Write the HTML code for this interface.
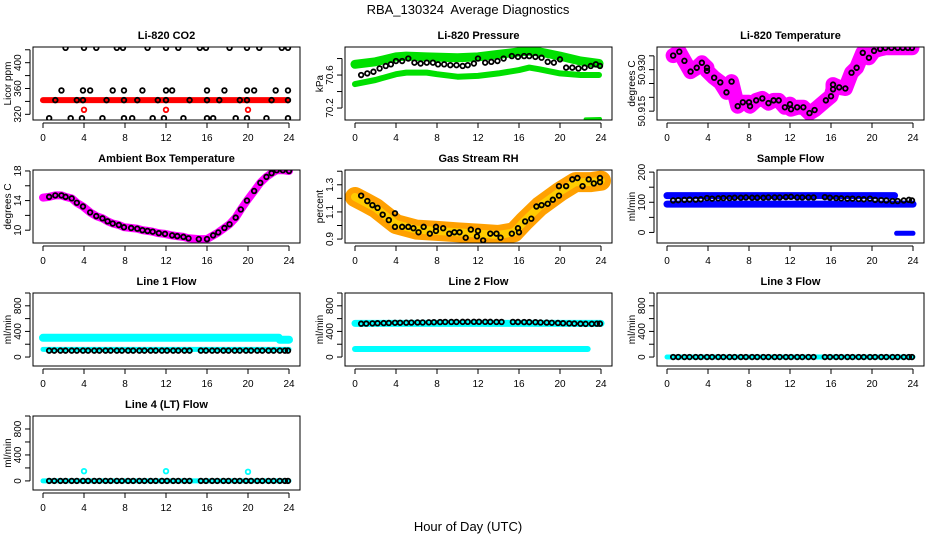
<!DOCTYPE html>
<html><head><meta charset="utf-8">
<style>
html,body{margin:0;padding:0;background:#fff;}
svg{display:block;font-family:"Liberation Sans",Arial,sans-serif;}
</style></head>
<body>
<svg id="chart" width="936" height="540" viewBox="0 0 936 540">
<text x="468" y="14" text-anchor="middle" font-size="13" style="white-space:pre">RBA_130324  Average Diagnostics</text>
<text x="468" y="531" text-anchor="middle" font-size="13">Hour of Day (UTC)</text>
</svg>
<script>
// ---------- data ----------
const xTicks = [0,4,8,12,16,20,24];
// CO2
const co2PtHours = [2.2,4.0,5.2,7.2,7.8,10.2,12.0,13.2,15.3,15.9,18.2,19.9,21.1,23.3,23.9,
 1.8,3.9,4.6,6.8,7.9,9.7,12.0,12.6,16.0,17.7,19.9,20.6,22.7,23.9,
 1.2,3.3,3.9,6.2,7.9,9.2,11.2,12.0,14.3,16.0,17.2,19.2,19.9,22.3,23.9,
 0.6,2.7,3.8,5.8,7.9,8.7,10.7,11.8,13.7,16.0,16.6,18.8,19.9,21.8,23.9];
const co2PtValues = [423,423,423,423,423,423,423,423,423,423,423,423,423,423,423,
 357,357,357,357,357,357,357,357,357,357,357,357,357,357,
 342,342,342,342,342,342,342,342,342,342,342,342,342,342,342,
 314,314,314,314,314,314,314,314,314,314,314,314,314,314,314];
const co2RawHours = [0,6,12,18,23.9];
const co2RawValues = [342,342,342,342,342];
const co2OutHours = [4,12,20];
const co2OutValues = [327,327,327];
// Pressure
const presHours = [0.6,1.2,1.8,2.4,3,3.5,4,4.6,5.2,5.8,6.4,7,7.6,8.1,8.7,9.3,9.9,10.5,11,11.6,12,12.7,13.3,13.9,14.5,15.3,15.9,16.5,17,17.6,18.2,18.8,19.4,20,20.6,21.2,21.8,22.4,23,23.5,23.9];
const presValues = [70.60,70.62,70.64,70.68,70.71,70.73,70.77,70.77,70.80,70.75,70.74,70.75,70.75,70.73,70.73,70.72,70.72,70.71,70.72,70.74,70.80,70.75,70.76,70.77,70.80,70.83,70.82,70.83,70.83,70.82,70.81,70.76,70.75,70.79,70.69,70.69,70.68,70.69,70.71,70.73,70.71];
const presUpHours = [0,2,4,5,7,10,12,14,16,17,18,20,22,23.8];
const presUpValues = [70.73,70.76,70.82,70.83,70.82,70.81,70.82,70.85,70.88,70.89,70.88,70.83,70.77,70.74];
const presLoHours = [0,2,4,5,7,8,10,12,14,16,17,18,20,22,23.8];
const presLoValues = [70.49,70.54,70.61,70.63,70.63,70.61,70.58,70.59,70.62,70.66,70.69,70.67,70.62,70.60,70.60];
const presDropHours = [22.5,23.9];
const presDropValues = [70.062,70.067];
// Li-820 temperature
const tempHours = [0.6,1.2,1.7,2.3,2.9,3.4,3.9,3.9,4.6,5.2,5.8,6.3,6.9,7.4,8,8.1,8.7,9.3,9.9,10.4,10.9,11.5,12,12.1,12.7,13.3,13.9,14.4,15.5,16,16.2,16.2,16.8,17.4,18,18.5,19.1,19.7,20.2,20.8,21.3,21.9,22.5,23,23.5,23.9];
const tempValues = [50.9351,50.9365,50.9332,50.9293,50.9307,50.9325,50.9307,50.9296,50.9271,50.9254,50.9218,50.9257,50.9168,50.9182,50.9182,50.9168,50.9189,50.9196,50.9179,50.9189,50.9189,50.9164,50.9175,50.9157,50.9164,50.9164,50.9143,50.9154,50.9189,50.9204,50.9229,50.9246,50.9236,50.9232,50.9289,50.9307,50.9361,50.9343,50.9368,50.9375,50.9379,50.9379,50.9379,50.9379,50.9379,50.9379];
// Ambient box temperature
const ambHours = [0,0.6,1.2,1.8,2.2,2.8,3.3,3.9,4.6,5.2,5.8,6.3,6.8,7.4,7.9,8.6,9.2,9.7,10.2,10.7,11.3,11.9,12.6,13.1,13.7,14.2,15.2,16,16.6,17.1,17.7,18.2,18.8,19.3,19.9,20.6,21.2,21.8,22.3,22.8,23.4,24];
const ambValues = [14.4,14.5,14.7,14.7,14.5,14.3,13.7,13.2,12.4,11.9,11.6,11.2,10.9,10.7,10.4,10.3,10.2,10.0,9.9,9.8,9.6,9.5,9.3,9.2,9.1,8.9,8.8,8.8,9.3,9.7,10.3,10.8,11.7,12.8,14.0,15.3,16.4,17.2,17.7,18.1,18.1,18.0];
// Gas stream RH
const rhHours = [0.6,1.2,1.7,2.2,2.7,3.3,3.9,3.9,4.6,5.2,5.7,6.2,6.7,7.3,7.9,7.9,8.6,9.2,9.7,10.2,10.8,11.3,11.9,12.0,12.5,13.2,13.8,14.2,15.3,15.9,16,16.6,17.2,17.7,18.2,18.8,19.3,19.9,19.9,20.6,21.2,21.7,22.2,22.8,23.3,23.9,23.9];
const rhValues = [1.22,1.18,1.15,1.13,1.08,1.04,1.09,0.99,0.99,0.99,0.98,0.95,0.99,0.94,0.96,0.99,0.98,0.94,0.95,0.95,0.91,0.97,0.92,0.96,0.89,0.94,0.94,0.91,0.94,0.98,0.95,1.03,1.05,1.14,1.15,1.16,1.19,1.29,1.22,1.29,1.34,1.35,1.29,1.34,1.31,1.35,1.32];
const rhBandHours = [0,1,2,3,4,6,8,10,12,14,15.5,16.5,18,20,21.5,23,24];
const rhBandValues = [1.21,1.17,1.13,1.07,1.01,0.97,0.96,0.95,0.94,0.93,0.95,1.03,1.14,1.25,1.32,1.32,1.33];
// Flows (hourly averages)
const flowHours = [0.6,1.1,1.7,2.2,2.8,3.3,3.9,4.4,5.0,5.5,6.1,6.6,7.2,7.7,8.3,8.8,9.4,9.9,10.5,11.0,11.6,12.1,12.7,13.2,13.8,14.3,15.4,15.9,16.5,17.0,17.6,18.1,18.7,19.2,19.8,20.3,20.9,21.4,22.0,22.5,23.1,23.6,23.9];
const sampleValues = [106,107,108,109,109,110,114,112,113,114,114,115,115,116,115,115,115,116,116,116,117,118,116,116,116,116,117,115,114,113,112,112,111,110,112,108,107,106,104,104,106,108,106];
const sampleUpHours = [0,22.2]; const sampleUpValues = [122,122];
const sampleLoHours = [0,24];   const sampleLoValues = [94,94];
const sampleDropHours = [22.4,24]; const sampleDropValues = [-3,-3];
const line1Values = [100,100,100,100,100,100,100,100,100,100,100,100,100,100,100,100,100,100,100,100,100,100,100,100,100,100,100,100,100,100,100,100,100,100,100,100,100,100,100,100,100,100,100];
const line1UpHours = [0,23,23.1,24]; const line1UpValues = [300,300,270,270];
const line1LoHours = [0,24]; const line1LoValues = [120,120];
const line2Values = [520,522,525,528,530,532,535,535,536,538,540,540,542,544,546,548,548,548,549,550,550,550,550,549,548,548,548,547,546,545,544,540,538,535,532,528,525,522,520,518,518,520,520];
const line2UpHours = [0,24]; const line2UpValues = [525,525];
const line2LoHours = [0,22.7]; const line2LoValues = [125,125];
const line3Values = [0,0,0,0,0,0,0,0,0,0,0,0,0,0,0,0,0,0,0,0,0,0,0,0,0,0,0,0,0,0,0,0,0,0,0,0,0,0,0,0,0,0,0];
const line3RawHours = [0,24]; const line3RawValues = [0,0];
const line4Values = [0,0,0,0,0,0,0,0,0,0,0,0,0,0,0,0,0,0,0,0,0,0,0,0,0,0,0,0,0,0,0,0,0,0,0,0,0,0,0,0,0,0,0];
const line4OutHours = [4,12,20]; const line4OutValues = [150,150,140];

// ---------- drawing ----------
const NS = "http://www.w3.org/2000/svg";
const svg = document.getElementById('chart');
function mk(tag, attrs, parent){ const e=document.createElementNS(NS,tag); for(const k in attrs) e.setAttribute(k,attrs[k]); (parent||svg).appendChild(e); return e; }

function panel(col,row,title,ylab,dom,ticks,labels,key){
  const L=33+312*col, R=300+312*col, T=47+123*row, B=120+123*row+(row==3?1:0);
  const g=mk('g',{});
  
  
  const xs=h=>L+10+h/24*246;
  const ys=v=>B-(v-dom[0])/(dom[1]-dom[0])*(B-T);
  const t=mk('text',{x:(L+R)/2,y:T-8,'text-anchor':'middle','font-size':11,'font-weight':'bold'},g);
  t.textContent=title;
  
  
  const xa=mk('g',{},g);
  
  
  mk('line',{x1:xs(0),x2:xs(24),y1:B+3,y2:B+3,stroke:'#000'},xa);
  xTicks.forEach(h=>{
    mk('line',{x1:xs(h),x2:xs(h),y1:B+3,y2:B+8,stroke:'#000'},xa);
    const tx=mk('text',{x:xs(h),y:B+21,'text-anchor':'middle','font-size':10},xa);
    tx.textContent=h;
  });
  const ya=mk('g',{},g);
  
  
  mk('line',{x1:L-3,x2:L-3,y1:ys(ticks[0]),y2:ys(ticks[ticks.length-1]),stroke:'#000'},ya);
  ticks.forEach(v=>mk('line',{x1:L-8,x2:L-3,y1:ys(v),y2:ys(v),stroke:'#000'},ya));
  labels.forEach(l=>{
    const yy=ys(l[0]);
    const tx=mk('text',{x:L-12,y:yy,'text-anchor':'middle','font-size':10,transform:`rotate(-90 ${L-12} ${yy})`},ya);
    tx.textContent=l[1];
  });
  const yl=mk('text',{x:L-22,y:(T+B)/2,'text-anchor':'middle','font-size':10,transform:`rotate(-90 ${L-22} ${(T+B)/2})`},g);
  yl.textContent=ylab;
  
  
  const clipId='clip-'+key;
  const cp=mk('clipPath',{id:clipId},g); mk('rect',{x:L,y:T,width:R-L,height:B-T},cp);
  const plot=mk('g',{'clip-path':`url(#${clipId})`},g);
  
  
  const box=mk('rect',{x:L,y:T,width:R-L,height:B-T,fill:'none',stroke:'#000','stroke-width':1},g);
  
  
  return {xs,ys,plot,g,box};
}
function band(p,hours,vals,color,w,name){
  const pts=hours.map((h,i)=>p.xs(h).toFixed(1)+','+p.ys(vals[i]).toFixed(1)).join(' ');
  const e=mk('polyline',{points:pts,fill:'none',stroke:color,'stroke-width':w,'stroke-linejoin':'round','stroke-linecap':'round'},p.plot);
  
  
}
function pts(p,hours,vals,color,name,r){
  const grp=mk('g',{},p.plot);
  
  
  hours.forEach((h,i)=>{
    const c=mk('circle',{cx:p.xs(h),cy:p.ys(vals[i]),r:r||2.3,fill:'none',stroke:color,'stroke-width':1.8},grp);
    
    
  });
}
const stepTicks=(a,b,s)=>{const o=[];for(let v=a;v<=b+1e-9;v+=s)o.push(+v.toFixed(4));return o;};

let p=panel(0,0,'Li-820 CO2','Licor ppm',[311.2,424.3],stepTicks(320,420,20),[[320,'320'],[360,'360'],[400,'400']],'co2');
band(p,co2RawHours,co2RawValues,'#ff0000',6,'co2-raw-band');
pts(p,co2OutHours,co2OutValues,'#ff0000','co2-raw-outliers');
pts(p,co2PtHours,co2PtValues,'#000','co2-average-points');
p=panel(1,0,'Li-820 Pressure','kPa',[70.055,70.94],[70.2,70.4,70.6,70.8],[[70.2,'70.2'],[70.6,'70.6']],'pressure');
band(p,presUpHours,presUpValues,'#00e000',9,'pressure-raw-upper');
band(p,presLoHours,presLoValues,'#00e000',6,'pressure-raw-lower');
band(p,presDropHours,presDropValues,'#00e000',4,'pressure-raw-drop');
pts(p,presHours,presValues,'#000','pressure-average-points');
p=panel(2,0,'Li-820 Temperature','degrees C',[50.9118,50.9382],[50.915,50.92,50.925,50.93,50.935],[[50.915,'50.915'],[50.93,'50.930']],'li820-temp');
band(p,tempHours,tempValues,'#ff00ff',15,'li820-temp-raw');
pts(p,tempHours,tempValues,'#000','li820-temp-average-points');
p=panel(0,1,'Ambient Box Temperature','degrees C',[8.27,18.13],[10,12,14,16,18],[[10,'10'],[14,'14'],[18,'18']],'ambient');
band(p,ambHours,ambValues,'#ff00ff',8,'ambient-raw');
pts(p,ambHours.slice(1),ambValues.slice(1),'#000','ambient-average-points');
p=panel(1,1,'Gas Stream RH','percent',[0.871,1.409],[0.9,1.0,1.1,1.2,1.3,1.4],[[0.9,'0.9'],[1.1,'1.1'],[1.3,'1.3']],'rh');
band(p,rhBandHours,rhBandValues,'#ffa000',20,'rh-raw-band');
band(p,rhBandHours,rhBandValues,'#ffcc00',8,'rh-raw-core');
pts(p,rhHours,rhValues,'#000','rh-average-points');
p=panel(2,1,'Sample Flow','ml/min',[-35,207],[0,50,100,150,200],[[0,'0'],[100,'100'],[200,'200']],'sample-flow');
band(p,sampleUpHours,sampleUpValues,'#0000ff',7,'sample-raw-upper');
band(p,sampleLoHours,sampleLoValues,'#0000ff',7,'sample-raw-lower');
band(p,sampleDropHours,sampleDropValues,'#0000ff',5,'sample-raw-drop');
pts(p,flowHours,sampleValues,'#000','sample-average-points');
const fT=[0,200,400,600,800,1000], fL=[[0,'0'],[400,'400'],[800,'800']];
p=panel(0,2,'Line 1 Flow','ml/min',[-140,1000],fT,fL,'line1');
band(p,line1UpHours,line1UpValues,'#00ffff',8,'line1-raw-upper');
band(p,line1LoHours,line1LoValues,'#00ffff',5,'line1-raw-lower');
pts(p,flowHours,line1Values,'#000','line1-average-points');
p=panel(1,2,'Line 2 Flow','ml/min',[-140,1000],fT,fL,'line2');
band(p,line2UpHours,line2UpValues,'#00ffff',7,'line2-raw-upper');
band(p,line2LoHours,line2LoValues,'#00ffff',6,'line2-raw-lower');
pts(p,flowHours,line2Values,'#000','line2-average-points');
p=panel(2,2,'Line 3 Flow','ml/min',[-140,1000],fT,fL,'line3');
band(p,line3RawHours,line3RawValues,'#00ffff',5,'line3-raw');
pts(p,flowHours,line3Values,'#000','line3-average-points');
p=panel(0,3,'Line 4 (LT) Flow','ml/min',[-140,1000],fT,fL,'line4');
band(p,line3RawHours,line3RawValues,'#00ffff',5,'line4-raw');
pts(p,line4OutHours,line4OutValues,'#00ffff','line4-raw-outliers');
pts(p,flowHours,line4Values,'#000','line4-average-points');
</script>
</body></html>
